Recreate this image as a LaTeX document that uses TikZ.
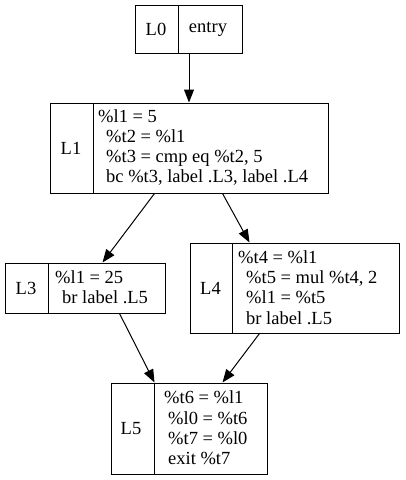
\documentclass[tikz,border=0pt]{standalone}
\usepackage{fontspec}
\setmainfont{Liberation Serif}
\usetikzlibrary{arrows.meta}
\begin{document}
\begin{tikzpicture}[x=1pt,y=-1pt,
  rec/.style={draw, line width=1pt, inner sep=0pt},
  div/.style={line width=1pt},
  lbl/.style={font=\fontsize{18.5}{20.3}\selectfont, inner sep=0pt},
  code/.style={font=\fontsize{18.5}{20.3}\selectfont, align=left, anchor=west, inner sep=0pt},
  edge/.style={-{Triangle[length=13pt,width=10pt]}, line width=1pt}
]
\useasboundingbox (0,0) rectangle (405,480);
% L0
\node[rec, minimum width=107pt, minimum height=48pt] (L0) at (189,29) {};
\draw[div] ([xshift=43.5pt]L0.north west) -- ([xshift=43.5pt]L0.south west);
\node[lbl] (L0a) at (156,29) {L0};
\node[lbl] (L0b) at (208,29) {entry};
% L1
\node[rec, minimum width=278pt, minimum height=90pt] (L1) at (189,148) {};
\draw[div] ([xshift=44pt]L1.north west) -- ([xshift=44pt]L1.south west);
\node[lbl] (L1a) at (71,148) {L1};
\node[code] (L1b) at (98,147.5) {\%l1 = 5\\\hspace*{8pt}\%t2 = \%l1\\\hspace*{8pt}\%t3 = cmp eq \%t2, 5\\\hspace*{8pt}bc \%t3, label .L3, label .L4};
% L3
\node[rec, minimum width=160pt, minimum height=50pt] (L3) at (85,288) {};
\draw[div] ([xshift=43.5pt]L3.north west) -- ([xshift=43.5pt]L3.south west);
\node[lbl] (L3a) at (26,288) {L3};
\node[code] (L3b) at (55,287.5) {\%l1 = 25\\\hspace*{7pt}br label .L5};
% L4
\node[rec, minimum width=209pt, minimum height=90pt] (L4) at (294.5,288) {};
\draw[div] ([xshift=43pt]L4.north west) -- ([xshift=43pt]L4.south west);
\node[lbl] (L4a) at (210.5,288) {L4};
\node[code] (L4b) at (238,287.5) {\%t4 = \%l1\\\hspace*{8pt}\%t5 = mul \%t4, 2\\\hspace*{8pt}\%l1 = \%t5\\\hspace*{8pt}br label .L5};
% L5
\node[rec, minimum width=156pt, minimum height=91pt] (L5) at (189,428.5) {};
\draw[div] ([xshift=43.5pt]L5.north west) -- ([xshift=43.5pt]L5.south west);
\node[lbl] (L5a) at (131,428.5) {L5};
\node[code] (L5b) at (164,428) {\%t6 = \%l1\\\hspace*{4pt}\%l0 = \%t6\\\hspace*{4pt}\%t7 = \%l0\\\hspace*{4pt}exit \%t7};
% edges
\draw[edge] (L0.south) -- (L1.north);
\draw[edge] ([xshift=105pt]L1.south west) -- ([xshift=98pt]L3.north west);
\draw[edge] ([xshift=173pt]L1.south west) -- ([xshift=60pt]L4.north west);
\draw[edge] ([xshift=115pt]L3.south west) -- ([xshift=44pt]L5.north west);
\draw[edge] ([xshift=70pt]L4.south west) -- ([xshift=112pt]L5.north west);
\end{tikzpicture}
\end{document}
